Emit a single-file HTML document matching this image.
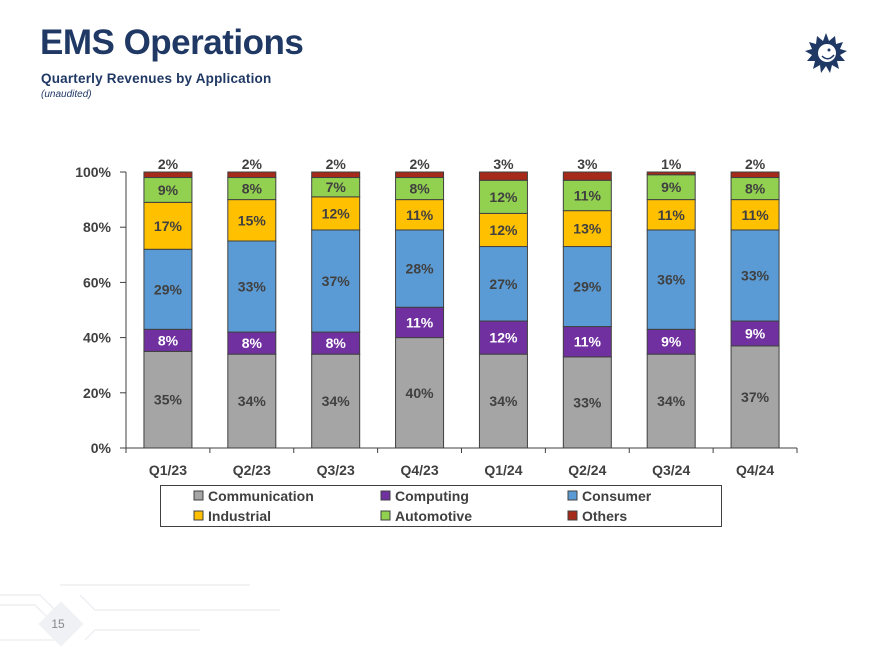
<!DOCTYPE html>
<html><head><meta charset="utf-8"><style>
body{margin:0;width:876px;height:656px;background:#fff;overflow:hidden;font-family:"Liberation Sans",sans-serif;position:relative}
#title{position:absolute;left:40px;top:23px;font-size:35px;font-weight:bold;color:#1F3864;letter-spacing:-0.5px}
#sub{position:absolute;left:41px;top:71px;font-size:13.5px;font-weight:bold;color:#1F3864;letter-spacing:0.2px}
#una{position:absolute;left:41px;top:89px;font-size:10px;font-style:italic;color:#1F3864}
svg{position:absolute;left:0;top:0}
</style></head><body>
<div id="title">EMS Operations</div>
<div id="sub">Quarterly Revenues by Application</div>
<div id="una">(unaudited)</div>
<svg id="chart" width="876" height="656">
<g>
<polygon fill="#1F3864" points="826,33 829,41 835,36 836,44 843,42 840,49 847,51 840,55 845,61 837,61 839,69 832,65 830,73 826,66 821,73 820,65 813,69 815,61 807,61 812,55 805,51 812,49 809,42 816,44 817,36 823,41"/>
<circle cx="827" cy="53" r="9" fill="#fff"/>
<circle cx="829" cy="50" r="1.5" fill="#1F3864"/>
<path d="M822,56 Q828,62 834,55" stroke="#1F3864" stroke-width="1.5" fill="none"/>
</g>
<g stroke="#eeeff2" fill="none" stroke-width="1.5">
<path d="M0,595 H40 L55,610 M0,605 H35 L55,625 M0,640 H60 L75,625 M80,595 L95,610 H280 M85,640 L95,630 H200 M60,585 H250"/>
<rect x="45" y="608" width="32" height="32" transform="rotate(45 61 624)" fill="#f0f1f4" stroke="none"/>
</g>
<text x="58" y="628" font-size="12" fill="#888" text-anchor="middle">15</text>
</svg>
<script>
const categories=["Q1/23","Q2/23","Q3/23","Q4/23","Q1/24","Q2/24","Q3/24","Q4/24"];
const seriesNames=["Communication","Computing","Consumer","Industrial","Automotive","Others"];
const communication=[35,34,34,40,34,33,34,37];
const computing=[8,8,8,11,12,11,9,9];
const consumer=[29,33,37,28,27,29,36,33];
const industrial=[17,15,12,11,12,13,11,11];
const automotive=[9,8,7,8,12,11,9,8];
const others=[2,2,2,2,3,3,1,2];
const yTicks=[0,20,40,60,80,100];
const colors=["#A5A5A5","#7030A0","#5B9BD5","#FFC000","#92D050","#A52A1A"];
const labelColors=["#404040","#ffffff","#404040","#404040","#404040","#404040"];
const series=[communication,computing,consumer,industrial,automotive,others];
const NS="http://www.w3.org/2000/svg";
const svg=document.getElementById('chart');
const X0=126,X1=797,Y0=448,Y1=172;
const bw=(X1-X0)/categories.length;
const y=v=>Y0-(v/100)*(Y0-Y1);
const xc=i=>X0+bw*(i+0.5);
function mk(tag,attrs){const e=document.createElementNS(NS,tag);for(const k in attrs)e.setAttribute(k,attrs[k]);svg.appendChild(e);return e;}
const barW=48;
categories.forEach((c,i)=>{
  let cum=0;
  series.forEach((s,j)=>{
    const v=s[i];
    const r=mk('rect',{x:xc(i)-barW/2,y:y(cum+v),width:barW,height:y(cum)-y(cum+v),fill:colors[j],stroke:'#404040','stroke-width':1});
    
    
    const ty=j===5?y(cum+v)-3:(y(cum)+y(cum+v))/2+5;
    const t=mk('text',{x:xc(i),y:ty,'text-anchor':'middle','font-size':14,'font-weight':'bold',fill:labelColors[j]});
    t.textContent=v+'%';
    
    
    cum+=v;
  });
  const xl=mk('text',{x:xc(i),y:475,'text-anchor':'middle','font-size':14,'font-weight':'bold',fill:'#404040'});
  xl.textContent=c;
  
  
});
const ax=mk('line',{x1:X0,y1:Y1,x2:X0,y2:Y0,stroke:'#404040','stroke-width':1});


const xa=mk('line',{x1:X0,y1:Y0,x2:X1,y2:Y0,stroke:'#404040','stroke-width':1});


for(let i=0;i<=categories.length;i++){const tk=mk('line',{x1:X0+bw*i,y1:Y0,x2:X0+bw*i,y2:Y0+5,stroke:'#404040'});

}
yTicks.forEach(v=>{
  const tk=mk('line',{x1:X0-6,y1:y(v),x2:X0,y2:y(v),stroke:'#404040'});
  
  
  const t=mk('text',{x:111,y:y(v)+5,'text-anchor':'end','font-size':14,'font-weight':'bold',fill:'#404040'});
  t.textContent=v+'%';
  
  
});
const lb=mk('rect',{x:160.5,y:485.5,width:561,height:41,fill:'#fff',stroke:'#404040'});


const lx=[194,381,568],ly=[496,516];
seriesNames.forEach((n,j)=>{
  const cx=lx[j%3],cy=ly[Math.floor(j/3)];
  const s=mk('rect',{x:cx,y:cy-5,width:9,height:9,fill:colors[j],stroke:'#404040'});
  
  
  const t=mk('text',{x:cx+14,y:cy+5,'font-size':14,'font-weight':'bold',fill:'#404040'});
  t.textContent=n;
  
  
});
</script>
</body></html>
